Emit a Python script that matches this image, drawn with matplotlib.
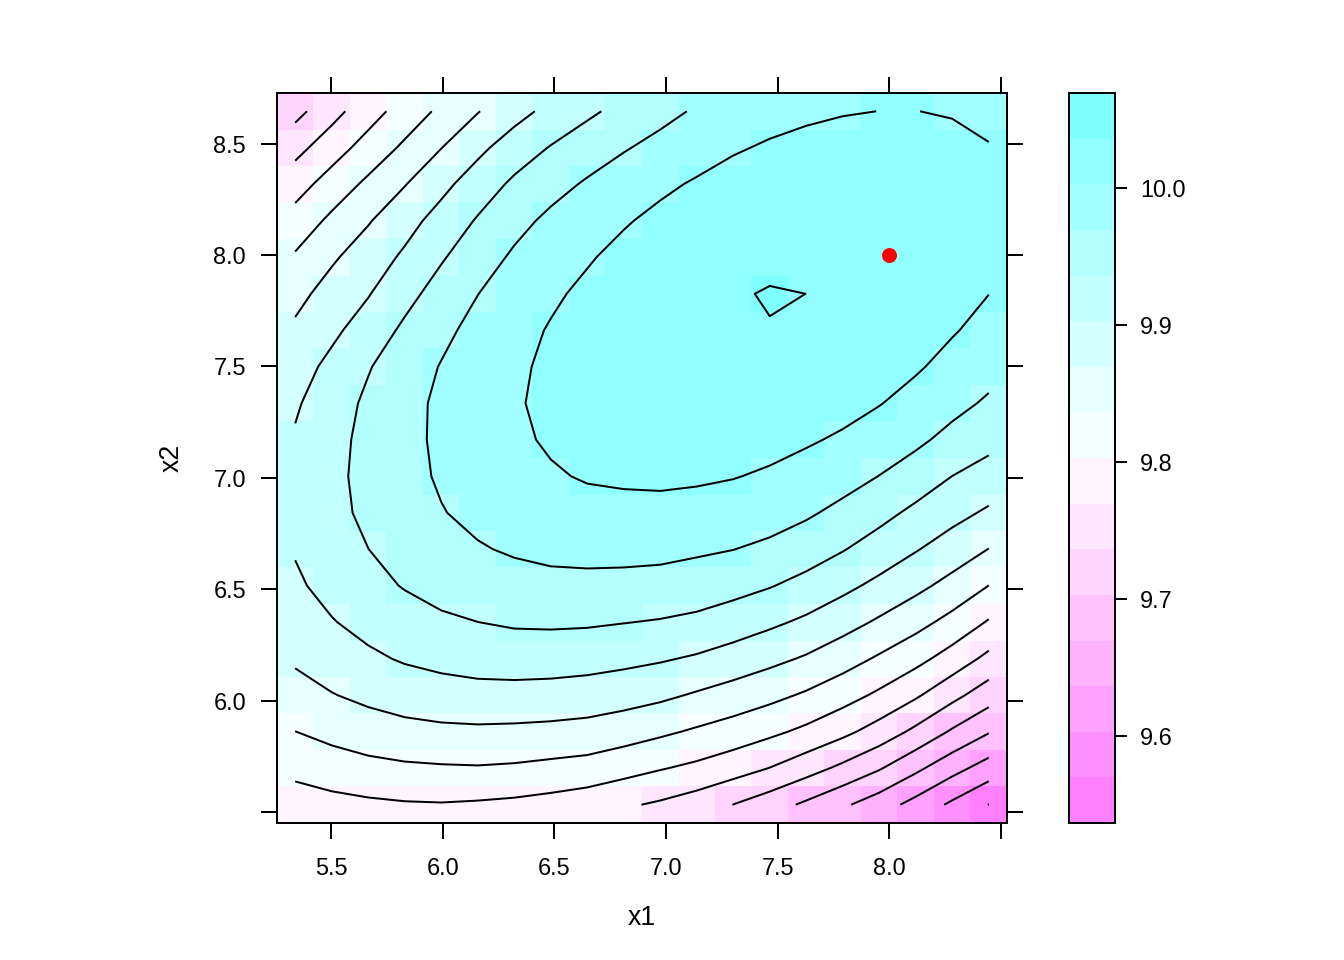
import numpy as np
import matplotlib.pyplot as plt
from matplotlib.colors import ListedColormap, BoundaryNorm
import matplotlib.colorbar as mcolorbar
from matplotlib.ticker import NullLocator

plt.rcParams['font.family'] = ['Liberation Sans', 'DejaVu Sans']

# grid of the fitted surface
x1 = [5.340, 5.503, 5.667, 5.830, 5.994, 6.157, 6.321, 6.484, 6.648, 6.811,
      6.975, 7.138, 7.301, 7.465, 7.628, 7.792, 7.955, 8.119, 8.282, 8.446]
x2 = [5.533, 5.697, 5.861, 6.024, 6.188, 6.352, 6.516, 6.680, 6.843, 7.007,
      7.171, 7.335, 7.499, 7.662, 7.826, 7.990, 8.154, 8.318, 8.481, 8.645]

# predicted response, one row per x2 value (bottom to top)
z = [
    [9.787, 9.793, 9.797, 9.800, 9.801, 9.799, 9.796, 9.791, 9.784, 9.774, 9.765, 9.753, 9.736, 9.718, 9.697, 9.675, 9.652, 9.625, 9.597, 9.569],
    [9.812, 9.820, 9.827, 9.831, 9.833, 9.834, 9.832, 9.828, 9.824, 9.815, 9.805, 9.796, 9.784, 9.769, 9.750, 9.729, 9.706, 9.677, 9.648, 9.622],
    [9.836, 9.846, 9.854, 9.860, 9.863, 9.864, 9.863, 9.861, 9.858, 9.851, 9.842, 9.832, 9.822, 9.810, 9.796, 9.778, 9.756, 9.729, 9.699, 9.672],
    [9.857, 9.868, 9.877, 9.884, 9.889, 9.892, 9.892, 9.891, 9.888, 9.883, 9.876, 9.866, 9.856, 9.845, 9.832, 9.816, 9.797, 9.774, 9.746, 9.718],
    [9.874, 9.886, 9.897, 9.906, 9.912, 9.916, 9.918, 9.917, 9.915, 9.911, 9.906, 9.899, 9.889, 9.878, 9.866, 9.850, 9.832, 9.813, 9.789, 9.761],
    [9.888, 9.901, 9.913, 9.923, 9.931, 9.936, 9.940, 9.941, 9.940, 9.937, 9.934, 9.929, 9.920, 9.909, 9.897, 9.882, 9.865, 9.847, 9.826, 9.800],
    [9.898, 9.913, 9.927, 9.938, 9.947, 9.954, 9.958, 9.961, 9.961, 9.960, 9.958, 9.954, 9.947, 9.938, 9.926, 9.911, 9.895, 9.878, 9.859, 9.836],
    [9.905, 9.921, 9.936, 9.949, 9.959, 9.967, 9.973, 9.977, 9.979, 9.979, 9.978, 9.974, 9.970, 9.963, 9.952, 9.938, 9.922, 9.905, 9.888, 9.869],
    [9.909, 9.927, 9.943, 9.956, 9.968, 9.977, 9.985, 9.990, 9.994, 9.995, 9.995, 9.992, 9.989, 9.983, 9.974, 9.961, 9.946, 9.929, 9.913, 9.898],
    [9.909, 9.928, 9.946, 9.960, 9.973, 9.984, 9.993, 10.000, 10.005, 10.007, 10.008, 10.007, 10.004, 9.999, 9.992, 9.982, 9.969, 9.954, 9.936, 9.923],
    [9.906, 9.926, 9.945, 9.961, 9.975, 9.988, 9.998, 10.006, 10.012, 10.016, 10.018, 10.018, 10.016, 10.012, 10.006, 9.999, 9.989, 9.976, 9.960, 9.946],
    [9.899, 9.921, 9.942, 9.960, 9.975, 9.988, 10.000, 10.009, 10.016, 10.021, 10.025, 10.026, 10.025, 10.023, 10.019, 10.012, 10.004, 9.993, 9.979, 9.965],
    [9.889, 9.911, 9.934, 9.954, 9.971, 9.986, 9.998, 10.008, 10.017, 10.023, 10.028, 10.031, 10.032, 10.031, 10.028, 10.023, 10.015, 10.006, 9.994, 9.981],
    [9.875, 9.896, 9.918, 9.942, 9.962, 9.979, 9.993, 10.005, 10.014, 10.022, 10.028, 10.032, 10.033, 10.033, 10.033, 10.029, 10.023, 10.015, 10.005, 9.994],
    [9.860, 9.882, 9.901, 9.926, 9.949, 9.969, 9.985, 9.998, 10.009, 10.018, 10.025, 10.031, 10.029, 10.041, 10.036, 10.032, 10.027, 10.020, 10.012, 10.003],
    [9.840, 9.865, 9.886, 9.908, 9.933, 9.955, 9.974, 9.989, 10.000, 10.011, 10.019, 10.026, 10.031, 10.018, 10.033, 10.031, 10.027, 10.022, 10.015, 10.008],
    [9.816, 9.843, 9.867, 9.891, 9.915, 9.939, 9.960, 9.976, 9.988, 10.000, 10.010, 10.018, 10.023, 10.027, 10.028, 10.027, 10.024, 10.021, 10.016, 10.010],
    [9.789, 9.817, 9.843, 9.868, 9.894, 9.919, 9.942, 9.959, 9.973, 9.986, 9.997, 10.006, 10.013, 10.017, 10.020, 10.020, 10.019, 10.017, 10.014, 10.010],
    [9.759, 9.788, 9.816, 9.842, 9.869, 9.895, 9.919, 9.938, 9.954, 9.967, 9.979, 9.990, 10.000, 10.006, 10.010, 10.011, 10.012, 10.011, 10.009, 10.005],
    [9.726, 9.758, 9.789, 9.817, 9.843, 9.868, 9.891, 9.912, 9.930, 9.946, 9.960, 9.973, 9.984, 9.993, 9.998, 10.0015, 10.0029, 10.0030, 10.0012, 9.991],
]

# design point marked in red
point_x1 = [8.0]
point_x2 = [8.0]

zlim = [9.5365, 10.0694]
xticks = [5.5, 6.0, 6.5, 7.0, 7.5, 8.0, 8.5]
xticklabels = ['5.5', '6.0', '6.5', '7.0', '7.5', '8.0', '']
yticks = [5.5, 6.0, 6.5, 7.0, 7.5, 8.0, 8.5]
yticklabels = ['', '6.0', '6.5', '7.0', '7.5', '8.0', '8.5']
cbticks = [9.6, 9.7, 9.8, 9.9, 10.0]
cbticklabels = ['9.6', '9.7', '9.8', '9.9', '10.0']

x1 = np.array(x1)
x2 = np.array(x2)
z = np.array(z)

# 16 regions, pink (low) -> white -> cyan (high)
at = np.linspace(zlim[0], zlim[1], 17)
sat = [0.50, 0.43, 0.37, 0.30, 0.24, 0.17, 0.10, 0.04]
cols = [(1, 1 - s, 1) for s in sat] + [(1 - s, 1, 1) for s in sat[::-1]]
cmap = ListedColormap(cols)
norm = BoundaryNorm(at, cmap.N)

fig = plt.figure(figsize=(7, 5), dpi=192)
ax = fig.add_axes([277/1344, 1 - 823/960, 730/1344, 730/960])
ax.pcolormesh(x1, x2, z, cmap=cmap, norm=norm, shading='nearest')
ax.contour(x1, x2, z, levels=at, colors='black', linewidths=0.75)
ax.plot(point_x1, point_x2, 'o', color='red', ms=5.6, mec='none')

dx = (x1[1] - x1[0]) / 2
dy = (x2[1] - x2[0]) / 2
ax.set_xlim(x1[0] - dx, x1[-1] + dx)
ax.set_ylim(x2[0] - dy, x2[-1] + dy)
ax.set_xticks(xticks)
ax.set_xticklabels(xticklabels)
ax.set_yticks(yticks)
ax.set_yticklabels(yticklabels)
ax.tick_params(direction='out', length=6, width=0.75, top=True, right=True, labelsize=8.8)
ax.tick_params(axis='x', pad=6.9)
ax.tick_params(axis='y', pad=5.6)
for s in ax.spines.values():
    s.set_linewidth(0.75)
fig.text(642/1344, 1 - 918/960, 'x1', ha='center', va='center', fontsize=10)
fig.text(172/1344, 1 - 458/960, 'x2', ha='center', va='center', fontsize=10, rotation=90)

# colour key
cax = fig.add_axes([1069/1344, 1 - 823/960, 46/1344, 730/960])
cb = mcolorbar.ColorbarBase(cax, cmap=cmap, norm=norm, boundaries=at, ticks=cbticks)
cb.outline.set_linewidth(0.75)
cax.yaxis.set_minor_locator(NullLocator())
cax.set_yticklabels(cbticklabels)
cax.tick_params(direction='out', length=4.5, width=0.75, labelsize=8.8, pad=4.9)

fig.savefig('out.png', dpi=192)
